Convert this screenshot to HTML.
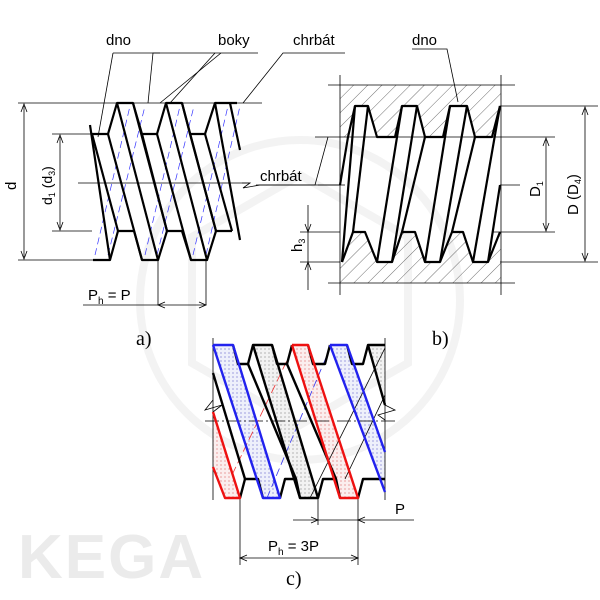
<!DOCTYPE html>
<html><head><meta charset="utf-8"><style>
body{margin:0;background:#fff}
svg{display:block}
text{font-family:"Liberation Sans",sans-serif;fill:#000}
</style></head><body>
<svg width="600" height="600" viewBox="0 0 600 600" xmlns="http://www.w3.org/2000/svg">
<defs>
<pattern id="hat" width="10" height="10" patternUnits="userSpaceOnUse" patternTransform="rotate(45)">
<line x1="0" y1="0" x2="0" y2="10" stroke="#333" stroke-width="0.7"/></pattern>
<pattern id="dk" width="4" height="4" patternUnits="userSpaceOnUse"><rect width="4" height="4" fill="#f2f2f2"/><circle cx="1" cy="1" r="0.6" fill="#888"/></pattern>
<pattern id="db" width="4" height="4" patternUnits="userSpaceOnUse"><rect width="4" height="4" fill="#eef0fb"/><circle cx="1" cy="1" r="0.6" fill="#66c"/></pattern>
<pattern id="dr" width="4" height="4" patternUnits="userSpaceOnUse"><rect width="4" height="4" fill="#fbeeee"/><circle cx="1" cy="1" r="0.6" fill="#d66"/></pattern>
</defs>
<!-- watermark -->
<g fill="none" stroke="#f3f3f3" stroke-width="8">
<circle cx="300" cy="300" r="160"/>
<polygon points="300,175 408,237 408,363 300,425 192,363 192,237"/>
</g>
<text x="18" y="578" font-size="62" style="fill:#ebebeb;font-weight:bold" letter-spacing="2">KEGA</text>

<!-- ===== a) ===== -->
<g stroke="#000" fill="none">
<g stroke-width="0.8">
<line x1="18" y1="103" x2="262" y2="103"/>
<line x1="18" y1="260" x2="110" y2="260"/>
<line x1="52" y1="134" x2="92" y2="134"/>
<line x1="52" y1="231" x2="92" y2="231"/>
<line x1="78" y1="183" x2="250" y2="183"/>
<line x1="24" y1="106" x2="24" y2="257"/>
<line x1="60" y1="137" x2="60" y2="228"/>
<polyline points="21,112 24,104 27,112"/><polyline points="21,251 24,259 27,251"/>
<polyline points="57,143 60,135 63,143"/><polyline points="57,222 60,230 63,222"/>
<line x1="158" y1="260" x2="158" y2="305"/><line x1="206" y1="260" x2="206" y2="305"/>
<line x1="83" y1="305" x2="206" y2="305"/>
<polyline points="165,302 158,305 165,308"/><polyline points="199,302 206,305 199,308"/>
<polyline points="113,53 98,137"/><line x1="113" y1="53" x2="160" y2="53"/>
<polyline points="148,103 153,53 258,53 221,53 160,103"/><polyline points="215,53 170,103"/>
<polyline points="243,103 283,53 345,53"/>
<polyline points="242,183 250,183 243,188 260,185 345,185"/>
</g>
<g stroke="#33f" stroke-width="0.7" stroke-dasharray="7,4">
<line x1="95" y1="255" x2="130" y2="106"/><line x1="108" y1="255" x2="145" y2="106"/>
<line x1="145" y1="255" x2="180" y2="106"/><line x1="157" y1="255" x2="194" y2="106"/>
<line x1="193" y1="255" x2="228" y2="106"/><line x1="206" y1="255" x2="240" y2="106"/>
</g>
<g stroke-width="2.2" stroke-linejoin="round">
<polyline points="92,134 108,134 117,103 133,103 142,134 157,134 166,103 182,103 190,134 205,134 215,103 230,103 237,103"/>
<polyline points="93,260 110,260 118,231 134,231 142,260 158,260 167,231 182,231 191,260 207,260 216,231 232,231"/>
<line x1="117" y1="103" x2="158" y2="260"/><line x1="133" y1="103" x2="167" y2="231"/>
<line x1="166" y1="103" x2="207" y2="260"/><line x1="182" y1="103" x2="216" y2="231"/>
<line x1="215" y1="103" x2="240" y2="240"/><line x1="230" y1="103" x2="240" y2="150"/>
<line x1="92" y1="134" x2="118" y2="231"/><line x1="108" y1="134" x2="142" y2="260"/>
<line x1="142" y1="134" x2="167" y2="231"/><line x1="157" y1="134" x2="191" y2="260"/>
<line x1="190" y1="134" x2="216" y2="231"/><line x1="205" y1="134" x2="232" y2="231"/>
<line x1="90" y1="125" x2="110" y2="260"/>
</g>
</g>
<text x="106" y="45" font-size="15">dno</text>
<text x="218" y="45" font-size="15">boky</text>
<text x="293" y="45" font-size="15">chrbát</text>
<text x="260" y="181" font-size="15">chrbát</text>
<text transform="translate(16,190) rotate(-90)" font-size="15">d</text>
<text transform="translate(52,205) rotate(-90)" font-size="14">d<tspan font-size="9" dy="3">1</tspan><tspan dy="-3"> (d</tspan><tspan font-size="9" dy="3">3</tspan><tspan dy="-3">)</tspan></text>
<text x="88" y="300" font-size="15">P<tspan font-size="10" dy="4">h</tspan><tspan dy="-4"> = P</tspan></text>
<text x="136" y="345" font-size="20" style="font-family:'Liberation Serif',serif">a)</text>
<text x="432" y="345" font-size="20" style="font-family:'Liberation Serif',serif">b)</text>

<!-- ===== b) ===== -->
<path d="M340,85 H501 V106 H340Z M340,106 V137 L348,137 L355,106Z M368,106 L377,137 395,137 402,106Z M417,106 L425,137 443,137 450,106Z M467,106 L475,137 492,137 500,106Z" fill="url(#hat)"/>
<path d="M340,262 H501 V283 H340Z M340,262 L353,232 365,232 377,262Z M392,262 L402,232 415,232 425,262Z M440,262 L452,232 463,232 473,262Z M488,262 L500,232 501,262Z" fill="url(#hat)"/>
<g stroke="#000" fill="none" stroke-width="0.8">
<line x1="328" y1="85" x2="515" y2="85"/><line x1="328" y1="283" x2="515" y2="283"/>
<line x1="340" y1="75" x2="340" y2="295"/><line x1="501" y1="75" x2="501" y2="295"/>
<line x1="500" y1="106" x2="598" y2="106"/><line x1="500" y1="262" x2="598" y2="262"/>
<line x1="315" y1="137" x2="555" y2="137"/><line x1="492" y1="232" x2="555" y2="232"/>
<line x1="300" y1="232" x2="340" y2="232"/><line x1="300" y1="262" x2="340" y2="262"/>
<line x1="318" y1="185" x2="340" y2="185"/><line x1="500" y1="185" x2="520" y2="185"/>
<line x1="546" y1="140" x2="546" y2="229"/><line x1="585" y1="109" x2="585" y2="259"/>
<polyline points="543,146 546,138 549,146"/><polyline points="543,223 546,231 549,223"/>
<polyline points="582,115 585,107 588,115"/><polyline points="582,253 585,261 588,253"/>
<line x1="308" y1="205" x2="308" y2="290"/>
<polyline points="305,224 308,232 311,224"/><polyline points="305,270 308,262 311,270"/>
<polyline points="256,185 315,185 328,137"/>
<polyline points="412,49 447,49 458,102"/>
</g>
<g stroke="#000" fill="none" stroke-width="2.2" stroke-linejoin="round">
<polyline points="348,137 355,106 368,106 377,137 395,137 402,106 417,106 425,137 443,137 450,106 467,106 475,137 492,137 500,106"/>
<polyline points="342,262 353,232 365,232 377,262 392,262 402,232 415,232 425,262 440,262 452,232 463,232 473,262 488,262 500,232"/>
<line x1="342" y1="262" x2="355" y2="106"/><line x1="353" y1="232" x2="368" y2="106"/>
<line x1="377" y1="262" x2="402" y2="106"/><line x1="392" y1="262" x2="417" y2="106"/>
<line x1="402" y1="232" x2="425" y2="137"/><line x1="425" y1="262" x2="450" y2="106"/>
<line x1="440" y1="262" x2="467" y2="106"/><line x1="452" y1="232" x2="475" y2="137"/>
<line x1="473" y1="262" x2="500" y2="106"/><line x1="488" y1="262" x2="500" y2="185"/>
<line x1="348" y1="137" x2="340" y2="185"/>
</g>
<text x="412" y="45" font-size="15">dno</text>
<text transform="translate(540,197) rotate(-90)" font-size="15">D<tspan font-size="9" dy="3">1</tspan></text>
<text transform="translate(578,215) rotate(-90)" font-size="15">D (D<tspan font-size="9" dy="3">4</tspan><tspan dy="-3">)</tspan></text>
<text transform="translate(302,252) rotate(-90)" font-size="15">h<tspan font-size="9" dy="3">3</tspan></text>

<!-- ===== c) ===== -->
<g>
<polygon points="213,345 233,345 280,498 263,498" fill="url(#db)"/>
<polygon points="253,345 272,345 318,498 300,498" fill="url(#dk)"/>
<polygon points="292,345 308,345 358,498 340,498" fill="url(#dr)"/>
<polygon points="330,345 347,345 385,452 385,492" fill="url(#db)"/>
<polygon points="368,345 385,345 385,405" fill="url(#dk)"/>
<polygon points="213,412 240,498 225,498 213,467" fill="url(#dr)"/>
</g>
<g fill="none" stroke-width="0.8">
<line x1="205" y1="421" x2="395" y2="421" stroke="#000" stroke-dasharray="14,3,2,3"/>
<line x1="213" y1="338" x2="213" y2="500" stroke="#000"/>
<line x1="385" y1="338" x2="385" y2="500" stroke="#000"/>
<polyline points="213,400 205,410 222,405 213,412" stroke="#000"/>
<polyline points="385,405 395,410 378,415 385,420" stroke="#000"/>
<g stroke="#e33" stroke-dasharray="9,4"><line x1="232" y1="475" x2="292" y2="350"/></g>
<g stroke="#33e" stroke-dasharray="8,4"><line x1="267" y1="498" x2="330" y2="348"/></g>
<g stroke="#000"><line x1="310" y1="498" x2="385" y2="348"/><line x1="345" y1="479" x2="385" y2="395"/></g>
<line x1="240" y1="498" x2="240" y2="565" stroke="#000"/>
<line x1="358" y1="498" x2="358" y2="565" stroke="#000"/>
<line x1="318" y1="498" x2="318" y2="525" stroke="#000"/>
<line x1="293" y1="520" x2="414" y2="520" stroke="#000"/>
<polyline points="311,517 318,520 311,523" stroke="#000"/><polyline points="365,517 358,520 365,523" stroke="#000"/>
<line x1="240" y1="558" x2="358" y2="558" stroke="#000"/>
<polyline points="247,555 240,558 247,561" stroke="#000"/><polyline points="351,555 358,558 351,561" stroke="#000"/>
</g>
<g fill="none" stroke-width="2.4" stroke-linejoin="round">
<polyline points="233,345 238,364 248,364 253,345 272,345 277,364 287,364 292,345" stroke="#000"/>
<polyline points="308,345 313,364 325,364 330,345" stroke="#000"/>
<polyline points="347,345 352,364 363,364 368,345 385,345" stroke="#000"/>
<polyline points="240,498 245,479 258,479 263,498" stroke="#000"/>
<polyline points="280,498 285,479 296,479 300,498 318,498 323,479 336,479 340,498" stroke="#000"/>
<polyline points="358,498 363,479 385,479" stroke="#000"/>
<line x1="213" y1="373" x2="245" y2="479" stroke="#000"/>
<line x1="248" y1="364" x2="296" y2="479" stroke="#000"/>
<line x1="253" y1="345" x2="300" y2="498" stroke="#000"/>
<line x1="272" y1="345" x2="318" y2="498" stroke="#000"/>
<line x1="287" y1="364" x2="336" y2="479" stroke="#000"/>
<line x1="368" y1="345" x2="385" y2="405" stroke="#000"/>
<polyline points="213,345 233,345 280,498 263,498 213,345" stroke="#22e"/>
<polyline points="292,345 308,345 358,498 340,498 292,345" stroke="#e11"/>
<polyline points="330,345 347,345 385,452" stroke="#22e"/>
<line x1="330" y1="345" x2="385" y2="492" stroke="#22e"/>
<polyline points="213,467 225,498 240,498 213,412" stroke="#e11"/>
</g>
<text x="395" y="514" font-size="15">P</text>
<text x="268" y="551" font-size="15">P<tspan font-size="10" dy="4">h</tspan><tspan dy="-4"> = 3P</tspan></text>
<text x="286" y="585" font-size="20" style="font-family:'Liberation Serif',serif">c)</text>
</svg>
</body></html>
